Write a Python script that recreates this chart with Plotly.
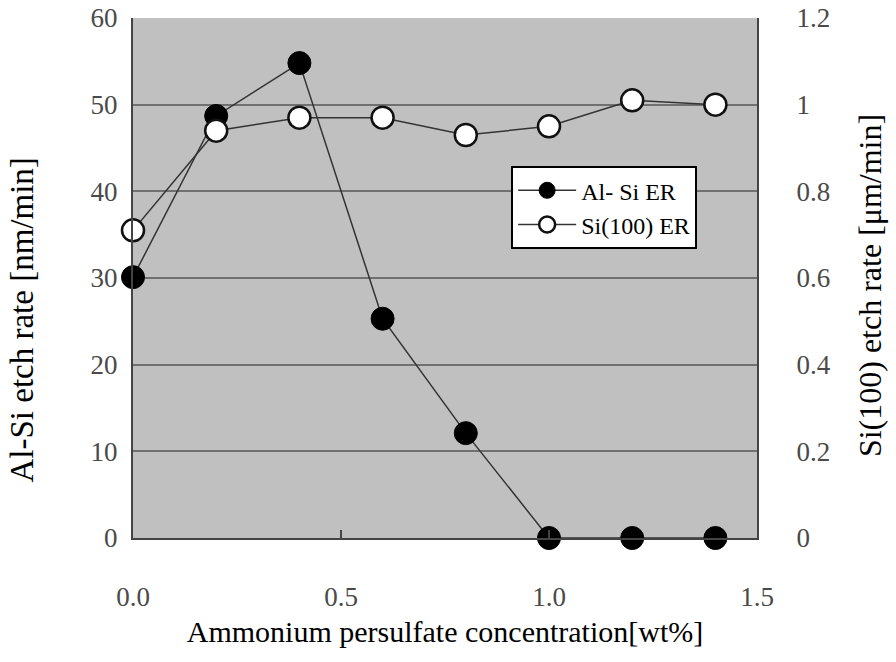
import plotly.graph_objects as go

conc = [0.0, 0.2, 0.4, 0.6, 0.8, 1.0, 1.2, 1.4]
alsi_er = [30.1, 48.7, 54.8, 25.3, 12.1, 0.0, 0.0, 0.0]
si100_er = [0.71, 0.94, 0.97, 0.97, 0.93, 0.95, 1.01, 1.0]

left_ticks = [0, 10, 20, 30, 40, 50, 60]
right_ticks = [0, 0.2, 0.4, 0.6, 0.8, 1.0, 1.2]
right_labels = ["0", "0.2", "0.4", "0.6", "0.8", "1", "1.2"]
x_ticks = [0.0, 0.5, 1.0, 1.5]
x_labels = ["0.0", "0.5", "1.0", "1.5"]

FONT = "'Liberation Serif', 'Times New Roman', 'DejaVu Serif', serif"
TFONT = "serif"

fig = go.Figure()
fig.add_trace(go.Scatter(
    x=conc, y=alsi_er, name="Al- Si ER", mode="lines+markers",
    line=dict(color="#333333", width=1.5),
    marker=dict(symbol="circle", size=23, color="black", line=dict(color="black", width=1)),
    cliponaxis=False,
))
fig.add_trace(go.Scatter(
    x=conc, y=si100_er, name="Si(100) ER", mode="lines+markers", yaxis="y2",
    line=dict(color="#333333", width=1.5),
    marker=dict(symbol="circle", size=22, color="white", line=dict(color="#111111", width=2.5)),
    cliponaxis=False,
))

fig.update_layout(
    width=896, height=662,
    margin=dict(l=133, r=139, t=18, b=124, autoexpand=False),
    paper_bgcolor="white", plot_bgcolor="#c0c0c0",
    font=dict(family=FONT, color="black"),
    showlegend=True,
    legend=dict(
        x=0.606, y=0.715, xanchor="left", yanchor="top",
        bgcolor="white", bordercolor="black", borderwidth=2,
        font=dict(family=FONT, size=24, color="black"),
        tracegroupgap=0, itemwidth=58,
    ),
    xaxis=dict(
        range=[0, 1.5], tickvals=x_ticks, ticktext=x_labels,
        showgrid=False, zeroline=False, automargin=False,
        showline=True, linecolor="#444444", linewidth=2, mirror=False,
        ticks="inside", ticklen=8, tickcolor="#444444", tickwidth=2,
        tickfont=dict(family=TFONT, size=27, color="#4a4a4a"),
        ticklabelstandoff=34, ticklabeloverflow="allow",
        title=dict(text="Ammonium persulfate concentration[wt%]",
                   font=dict(family=FONT, size=30, color="black"), standoff=10),
    ),
    yaxis=dict(
        range=[0, 60], tickvals=left_ticks, automargin=False,
        showgrid=True, gridcolor="#707070", gridwidth=2,
        zeroline=False,
        showline=True, linecolor="#444444", linewidth=2,
        ticks="", tickfont=dict(family=TFONT, size=27, color="#4a4a4a"),
        ticklabelstandoff=8, ticklabeloverflow="allow",
    ),
    yaxis2=dict(
        range=[0, 1.2], tickvals=right_ticks, ticktext=right_labels,
        overlaying="y", side="right", automargin=False,
        showgrid=False, zeroline=False,
        showline=True, linecolor="#444444", linewidth=2,
        ticks="", tickfont=dict(family=TFONT, size=27, color="#4a4a4a"),
        ticklabelstandoff=32, ticklabeloverflow="allow",
    ),
    annotations=[
        dict(text="Al-Si etch rate [nm/min]", textangle=-90,
             xref="paper", yref="paper", x=-0.178, y=0.42,
             xanchor="center", yanchor="middle", showarrow=False,
             font=dict(family=FONT, size=33, color="black")),
        dict(text="Si(100) etch rate [μm/min]", textangle=-90,
             xref="paper", yref="paper", x=1.18, y=0.485,
             xanchor="center", yanchor="middle", showarrow=False,
             font=dict(family=FONT, size=32, color="black")),
    ],
)

fig.write_html("out.html", config={"displayModeBar": False},
               post_script="document.body.style.margin='0';")
